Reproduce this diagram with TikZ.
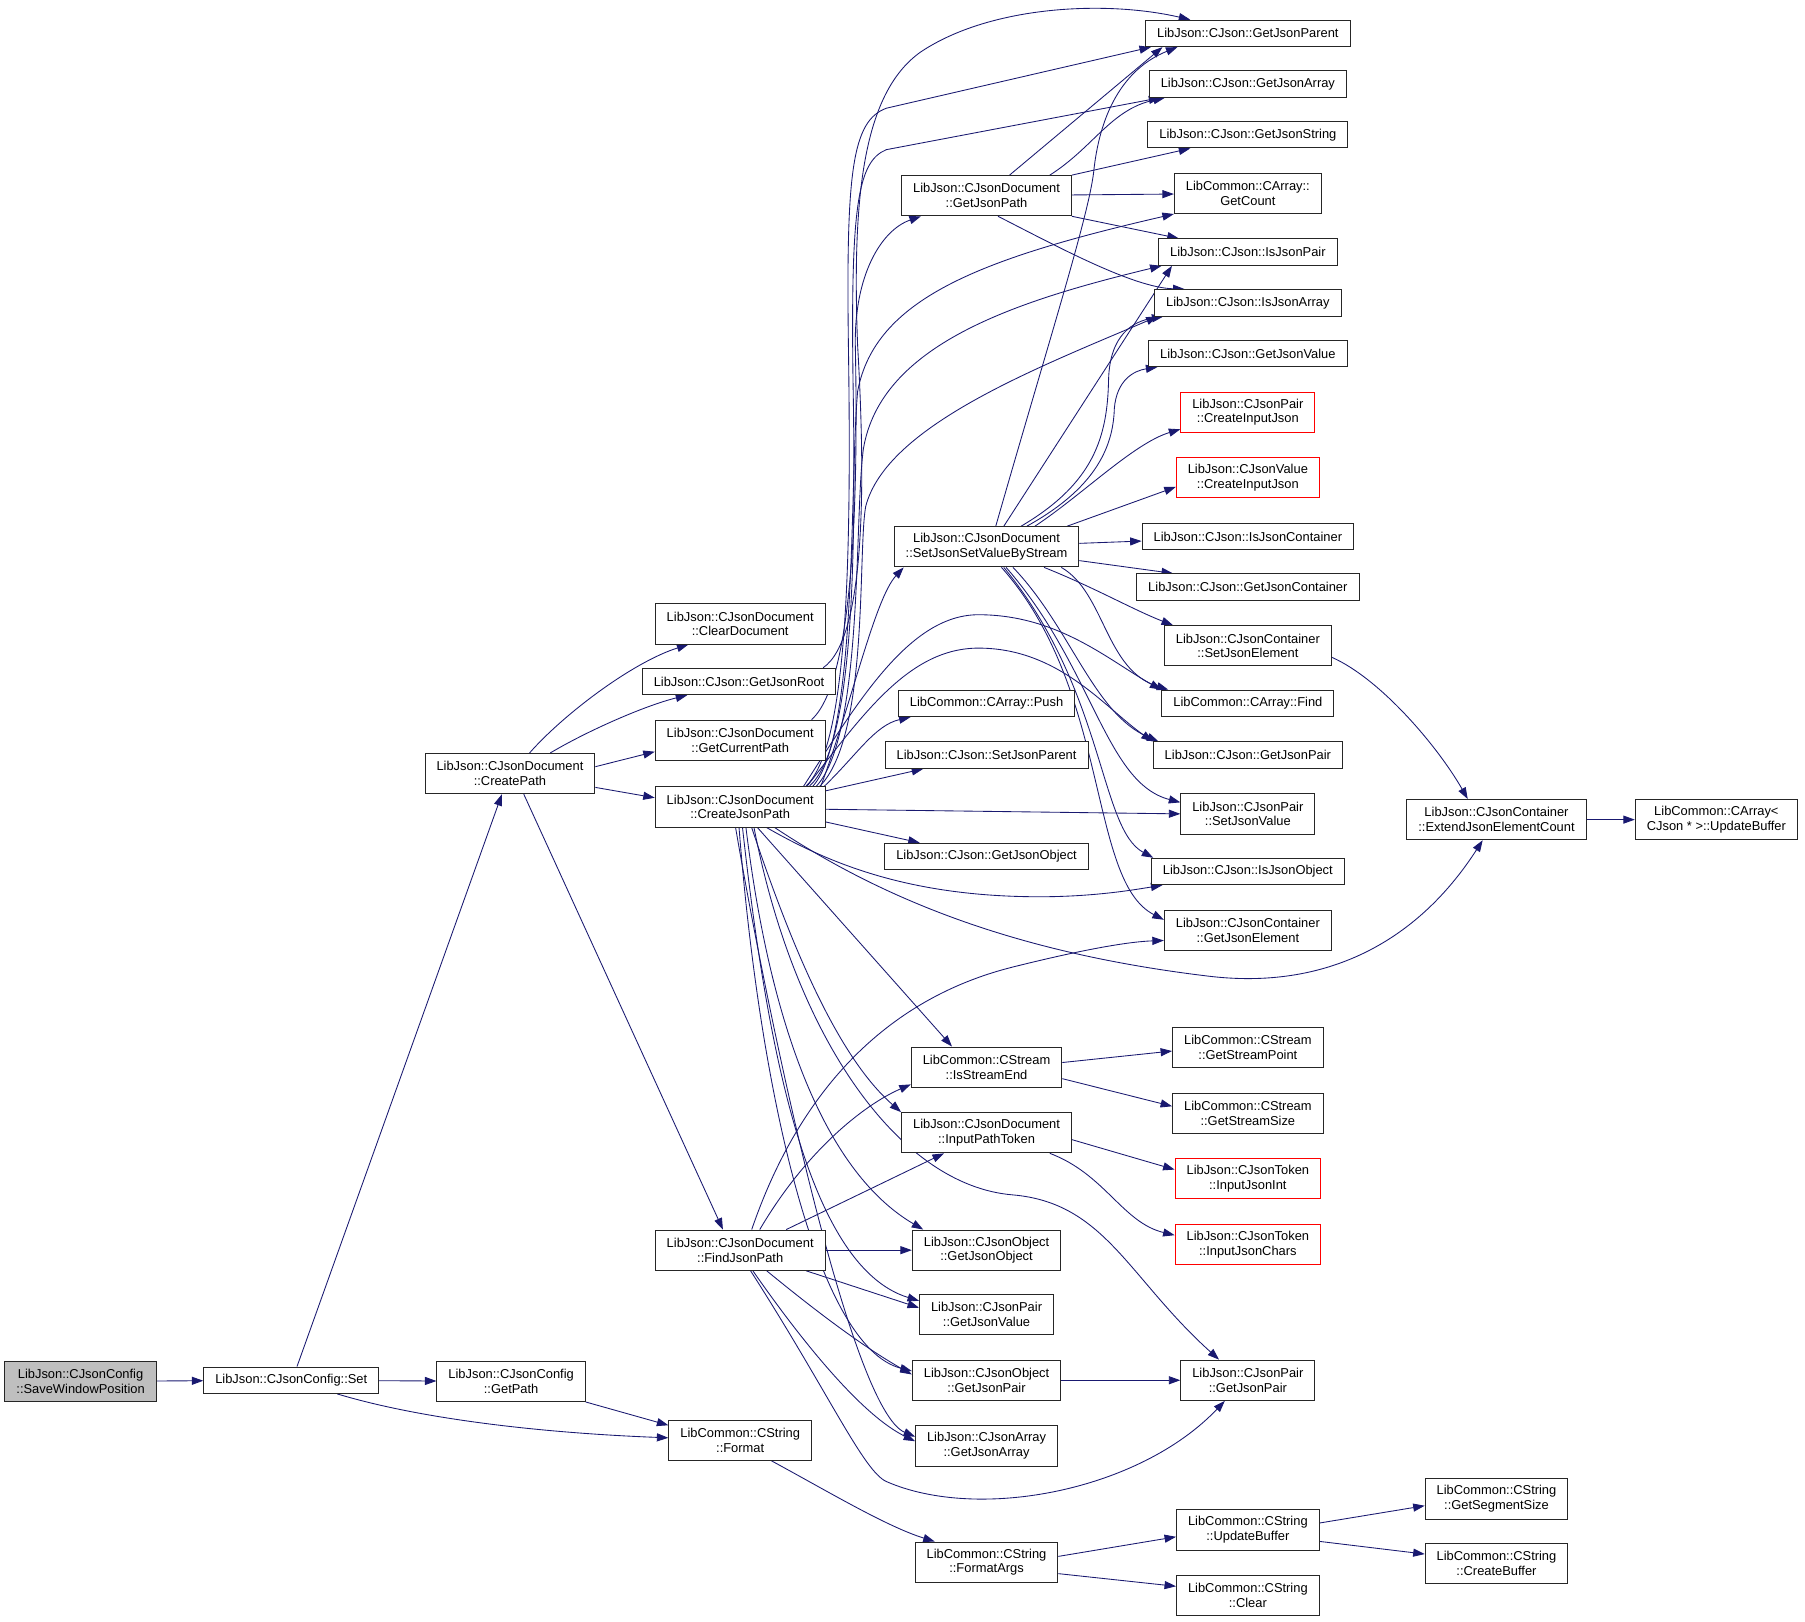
\documentclass[tikz,border=0pt]{standalone}
\usepackage{fontspec}
\setmainfont{Liberation Sans}
\usetikzlibrary{arrows.meta,backgrounds}
\definecolor{navy9}{HTML}{191970}
\definecolor{gray9}{HTML}{BFBFBF}
\definecolor{red9}{HTML}{FF0000}

\begin{document}
\begin{tikzpicture}
  [x=1pt, y=-1pt,
   every node/.style={font=\fontsize{11.2}{12.8}\selectfont},
   fn/.style={draw=black!85, line width=0.8pt, fill=white, inner xsep=10pt, inner ysep=2pt, minimum height=23pt, align=center},
   fn2/.style={fn, minimum height=35pt},
   root/.style={fill=gray9},
   missing/.style={draw=red9},
   call/.style={draw=navy9, line width=0.75pt, -{Triangle[length=10pt,width=7pt]}}]

  \useasboundingbox (0,0) rectangle (1568,1409);

  %Left columns
  \node[fn2,root] (save) at (70,1200) {LibJson::CJsonConfig\\::SaveWindowPosition};
  \node[fn] (cset) at (253,1199) {LibJson::CJsonConfig::Set};
  \node[fn2] (createpath) at (443,672) {LibJson::CJsonDocument\\::CreatePath};
  \node[fn2] (getpath) at (444,1200) {LibJson::CJsonConfig\\::GetPath};
  \node[fn2] (format) at (643,1251) {LibCommon::CString\\::Format};
  \node[fn2] (cleardoc) at (643,542) {LibJson::CJsonDocument\\::ClearDocument};
  \node[fn] (getroot) at (642,592) {LibJson::CJson::GetJsonRoot};
  \node[fn2] (curpath) at (643,643) {LibJson::CJsonDocument\\::GetCurrentPath};
  \node[fn2] (createjson) at (643,701) {LibJson::CJsonDocument\\::CreateJsonPath};
  \node[fn2] (findjson) at (643,1086) {LibJson::CJsonDocument\\::FindJsonPath};

  %Middle column
  \node[fn2] (getjsonpath) at (857,170) {LibJson::CJsonDocument\\::GetJsonPath};
  \node[fn2] (setbystream) at (857,475) {LibJson::CJsonDocument\\::SetJsonSetValueByStream};
  \node[fn] (push) at (857,611) {LibCommon::CArray::Push};
  \node[fn] (setparent) at (857,656) {LibJson::CJson::SetJsonParent};
  \node[fn] (jgetobject) at (857,744) {LibJson::CJson::GetJsonObject};
  \node[fn2] (isend) at (857,927) {LibCommon::CStream\\::IsStreamEnd};
  \node[fn2] (inputtoken) at (857,984) {LibJson::CJsonDocument\\::InputPathToken};
  \node[fn2] (ogetobject) at (857,1086) {LibJson::CJsonObject\\::GetJsonObject};
  \node[fn2] (pgetvalue) at (857,1142) {LibJson::CJsonPair\\::GetJsonValue};
  \node[fn2] (ogetpair) at (857,1199) {LibJson::CJsonObject\\::GetJsonPair};
  \node[fn2] (agetarray) at (857,1256) {LibJson::CJsonArray\\::GetJsonArray};
  \node[fn2] (formatargs) at (857,1357) {LibCommon::CString\\::FormatArgs};

  %Right column
  \node[fn] (getparent) at (1084,29) {LibJson::CJson::GetJsonParent};
  \node[fn] (jgetarray) at (1084,73) {LibJson::CJson::GetJsonArray};
  \node[fn] (getstring) at (1084,117) {LibJson::CJson::GetJsonString};
  \node[fn2] (getcount) at (1084,168) {LibCommon::CArray::\\GetCount};
  \node[fn] (ispair) at (1084,219) {LibJson::CJson::IsJsonPair};
  \node[fn] (isarray) at (1084,263) {LibJson::CJson::IsJsonArray};
  \node[fn] (jgetvalue) at (1084,307) {LibJson::CJson::GetJsonValue};
  \node[fn2,missing] (pcreate) at (1084,358) {LibJson::CJsonPair\\::CreateInputJson};
  \node[fn2,missing] (vcreate) at (1084,415) {LibJson::CJsonValue\\::CreateInputJson};
  \node[fn] (iscont) at (1084,466) {LibJson::CJson::IsJsonContainer};
  \node[fn] (getcont) at (1084,510) {LibJson::CJson::GetJsonContainer};
  \node[fn2] (setelem) at (1084,561) {LibJson::CJsonContainer\\::SetJsonElement};
  \node[fn] (find) at (1084,611) {LibCommon::CArray::Find};
  \node[fn] (jgetpair) at (1084,656) {LibJson::CJson::GetJsonPair};
  \node[fn2] (psetvalue) at (1084,707) {LibJson::CJsonPair\\::SetJsonValue};
  \node[fn] (isobject) at (1084,757) {LibJson::CJson::IsJsonObject};
  \node[fn2] (getelem) at (1084,808) {LibJson::CJsonContainer\\::GetJsonElement};
  \node[fn2] (streampoint) at (1084,910) {LibCommon::CStream\\::GetStreamPoint};
  \node[fn2] (streamsize) at (1084,967) {LibCommon::CStream\\::GetStreamSize};
  \node[fn2,missing] (tokenint) at (1084,1024) {LibJson::CJsonToken\\::InputJsonInt};
  \node[fn2,missing] (tokenchars) at (1084,1081) {LibJson::CJsonToken\\::InputJsonChars};
  \node[fn2] (pgetpair) at (1084,1199) {LibJson::CJsonPair\\::GetJsonPair};
  \node[fn2] (updbuf) at (1084,1329) {LibCommon::CString\\::UpdateBuffer};
  \node[fn2] (clear) at (1084,1386) {LibCommon::CString\\::Clear};

  %Far right
  \node[fn2] (extend) at (1300,712) {LibJson::CJsonContainer\\::ExtendJsonElementCount};
  \node[fn2] (segsize) at (1300,1302) {LibCommon::CString\\::GetSegmentSize};
  \node[fn2] (createbuf) at (1300,1358) {LibCommon::CString\\::CreateBuffer};
  \node[fn2] (aupdbuf) at (1491,712) {LibCommon::CArray<\\CJson * >::UpdateBuffer};

  \begin{scope}[on background layer]
  %Calls of Set
  \draw[call] (save) -- (cset);
  \draw[call] ([xshift=5pt]cset.north) -- ([xshift=-7pt]createpath.south);
  \draw[call] (cset) -- (getpath);
  \draw[call] ([xshift=40pt]cset.south) .. controls (380,1237) and (500,1246) .. ([yshift=2pt]format.west);
  \draw[call] (getpath.south east) -- ([yshift=-5pt]format.north west);
  \draw[call] ([xshift=27pt]format.south) .. controls (720,1296) and (770,1326) .. ([xshift=-45pt]formatargs.north);
  \draw[call] ([yshift=5pt]formatargs.east) -- ([yshift=-6pt]updbuf.west);
  \draw[call] ([yshift=-10pt]formatargs.east) -- ([yshift=8pt]clear.west);
  \draw[call] ([yshift=6pt]updbuf.east) -- ([yshift=-6pt]segsize.west);
  \draw[call] ([yshift=-10pt]updbuf.east) -- ([yshift=8pt]createbuf.west);

  %Calls of CreatePath
  \draw[call] ([xshift=17pt]createpath.north) .. controls (490,620) and (550,575) .. ([xshift=-45pt]cleardoc.south);
  \draw[call] ([xshift=35pt]createpath.north) .. controls (510,635) and (560,613) .. ([xshift=-45pt]getroot.south);
  \draw[call] ([yshift=6pt]createpath.east) -- ([yshift=-10pt]curpath.west);
  \draw[call] ([yshift=-12pt]createpath.east) -- ([yshift=8pt]createjson.west);
  \draw[call] ([xshift=12pt]createpath.south) -- ([xshift=-15pt]findjson.north);

  %Bundle going up
  \draw[call] ([xshift=73pt]getroot.north) .. controls (752,555) and (752,420) .. (745,300) .. controls (740,170) and (750,80) .. (800,45) .. controls (860,5) and (960,0) .. ([xshift=-50pt]getparent.north);
  \draw[call] ([xshift=62pt]curpath.north) .. controls (745,590) and (745,400) .. (743,300) .. controls (742,240) and (765,200) .. ([xshift=-57pt]getjsonpath.south);
  \draw[call] ([xshift=57pt]createjson.north) .. controls (735,650) and (740,500) .. (737,300) .. controls (735,150) and (740,105) .. (770,94) -- ([xshift=5pt]getparent.south west);
  \draw[call] ([xshift=60pt]createjson.north) .. controls (740,650) and (744,500) .. (741,330) .. controls (739,180) and (745,140) .. (770,130) -- ([xshift=10pt]jgetarray.south west);
  \draw[call] ([xshift=63pt]createjson.north) .. controls (745,640) and (738,420) .. (745,340) .. controls (760,260) and (850,225) .. (getcount.south west);
  \draw[call] ([xshift=66pt]createjson.north) .. controls (750,640) and (742,450) .. (750,390) .. controls (765,300) and (880,262) .. ([xshift=3pt]ispair.south west);
  \draw[call] ([xshift=69pt]createjson.north) .. controls (755,640) and (745,480) .. (752,440) .. controls (770,370) and (900,320) .. ([xshift=3pt]isarray.south west);
  \draw[call] ([xshift=70pt]createjson.north) .. controls (740,610) and (760,520) .. ([xshift=-72pt]setbystream.south);
  \draw[call] ([xshift=73pt]createjson.north) .. controls (745,655) and (760,630) .. ([xshift=-66pt]push.south);
  \draw[call] ([xshift=55pt]createjson.north) .. controls (745,610) and (790,534) .. (850,534) .. controls (920,534) and (965,575) .. (find.north west);
  \draw[call] ([xshift=58pt]createjson.north) .. controls (750,620) and (790,563) .. (850,563) .. controls (920,563) and (960,615) .. (jgetpair.north west);

  %Other calls of CreateJsonPath
  \draw[call] ([yshift=14pt]createjson.east) -- ([xshift=-55pt]setparent.south);
  \draw[call] ([yshift=-2pt]createjson.east) -- (psetvalue.west);
  \draw[call] ([yshift=-13pt]createjson.east) -- ([xshift=-58pt]jgetobject.north);
  \draw[call] ([xshift=23pt]createjson.south) .. controls (720,750) and (790,779) .. (903,779) .. controls (950,779) and (985,773) .. ([xshift=10pt]isobject.south west);
  \draw[call] ([xshift=30pt]createjson.south) .. controls (780,790) and (900,830) .. (1050,848) .. controls (1150,860) and (1230,820) .. ([xshift=-12pt]extend.south);
  \draw[call] ([xshift=15pt]createjson.south) -- ([xshift=-30pt]isend.north);
  \draw[call] ([xshift=10pt]createjson.south) .. controls (690,830) and (730,920) .. (inputtoken.north west);
  \draw[call] ([xshift=5pt]createjson.south) .. controls (670,900) and (720,1020) .. ([xshift=-55pt]ogetobject.north);
  \draw[call] ([xshift=2pt]createjson.south) .. controls (665,900) and (700,1100) .. ([yshift=12pt]pgetvalue.west);
  \draw[call] ([xshift=-1pt]createjson.south) .. controls (660,950) and (710,1170) .. ([yshift=8pt]ogetpair.west);
  \draw[call] ([xshift=-4pt]createjson.south) .. controls (670,900) and (740,1225) .. ([yshift=8pt]agetarray.west);
  \draw[call] ([xshift=12pt]createjson.south) .. controls (690,900) and (780,1030) .. (880,1038) .. controls (960,1045) and (980,1110) .. ([xshift=-25pt]pgetpair.north);

  %Calls of FindJsonPath
  \draw[call] ([xshift=10pt]findjson.north) .. controls (690,960) and (760,870) .. (880,840) .. controls (940,825) and (980,818) .. ([yshift=-9pt]getelem.west);
  \draw[call] ([xshift=17pt]findjson.north) .. controls (700,1000) and (750,960) .. ([yshift=-15pt]isend.west);
  \draw[call] ([xshift=40pt]findjson.north) -- ([xshift=-37pt]inputtoken.south);
  \draw[call] (findjson) -- (ogetobject);
  \draw[call] ([xshift=-17pt]findjson.south east) -- ([yshift=6pt]pgetvalue.west);
  \draw[call] ([xshift=23pt]findjson.south) .. controls (710,1140) and (750,1170) .. ([yshift=5pt]ogetpair.west);
  \draw[call] ([xshift=11pt]findjson.south) .. controls (700,1170) and (750,1230) .. ([yshift=4pt]agetarray.west);
  \draw[call] ([xshift=9pt]findjson.south) .. controls (720,1210) and (750,1278) .. (770,1287) .. controls (850,1322) and (990,1295) .. ([xshift=-20pt]pgetpair.south);
  \draw[call] (ogetpair) -- (pgetpair);

  %Calls of GetJsonPath
  \draw[call] ([xshift=20pt]getjsonpath.north) -- ([xshift=15pt]getparent.south west);
  \draw[call] ([xshift=55pt]getjsonpath.north) .. controls (950,128) and (965,95) .. ([xshift=14pt]jgetarray.south west);
  \draw[call] (getjsonpath.north east) -- ([xshift=-50pt]getstring.south);
  \draw[call] (getjsonpath) -- (getcount);
  \draw[call] (getjsonpath.south east) -- ([xshift=-60pt]ispair.north);
  \draw[call] ([xshift=10pt]getjsonpath.south) .. controls (920,215) and (985,250) .. ([xshift=-55pt]isarray.north);

  %Calls of SetJsonSetValueByStream
  \draw[call] ([xshift=8pt]setbystream.north) .. controls (910,300) and (945,190) .. (950,150) .. controls (955,100) and (975,60) .. ([xshift=28pt]getparent.south west);
  \draw[call] ([xshift=15pt]setbystream.north) -- ([xshift=12pt]ispair.south west);
  \draw[call] ([xshift=30pt]setbystream.north) .. controls (950,420) and (962,380) .. (963,330) .. controls (964,290) and (985,279) .. ([xshift=8pt]isarray.south west);
  \draw[call] ([xshift=35pt]setbystream.north) .. controls (950,425) and (967,390) .. (968,355) .. controls (970,330) and (985,322) .. ([xshift=8pt]jgetvalue.south west);
  \draw[call] ([xshift=42pt]setbystream.north) .. controls (940,430) and (985,385) .. ([yshift=3pt]pcreate.south west);
  \draw[call] ([xshift=70pt]setbystream.north) -- ([yshift=-8pt]vcreate.west);
  \draw[call] ([yshift=3pt]setbystream.east) -- ([yshift=-4pt]iscont.west);
  \draw[call] ([yshift=-12pt]setbystream.east) -- ([xshift=-65pt]getcont.north);
  \draw[call] ([xshift=50pt]setbystream.south) .. controls (950,510) and (985,530) .. ([xshift=-65pt]setelem.north);
  \draw[call] ([xshift=65pt]setbystream.south) .. controls (960,515) and (960,582) .. ([xshift=6pt]find.north west);
  \draw[call] ([xshift=23pt]setbystream.south) .. controls (930,545) and (950,620) .. ([xshift=5pt]jgetpair.north west);
  \draw[call] ([xshift=17pt]setbystream.south) .. controls (950,580) and (960,680) .. ([yshift=10pt]psetvalue.west);
  \draw[call] ([xshift=15pt]setbystream.south) .. controls (960,600) and (955,720) .. ([xshift=2pt]isobject.north west);
  \draw[call] ([xshift=13pt]setbystream.south) .. controls (965,600) and (945,765) .. ([yshift=9pt]getelem.west);

  %Remaining calls
  \draw[call] ([yshift=-10pt]setelem.east) .. controls (1200,590) and (1250,650) .. ([xshift=-25pt]extend.north);
  \draw[call] (extend) -- (aupdbuf);
  \draw[call] ([yshift=4pt]isend.east) -- ([yshift=-3pt]streampoint.west);
  \draw[call] ([yshift=-10pt]isend.east) -- ([yshift=6pt]streamsize.west);
  \draw[call] ([yshift=-6pt]inputtoken.east) -- ([yshift=8pt]tokenint.west);
  \draw[call] ([xshift=55pt]inputtoken.south) .. controls (960,1020) and (975,1062) .. ([yshift=8pt]tokenchars.west);
  \end{scope}
\end{tikzpicture}
\end{document}
